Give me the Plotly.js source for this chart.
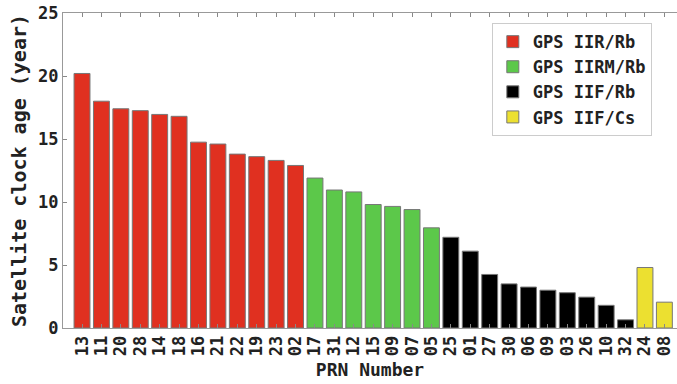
<!DOCTYPE html>
<html>
<head>
<meta charset="utf-8">
<script src="https://cdn.plot.ly/plotly-3.0.1.min.js"></script>
<style>html,body{margin:0;padding:0;background:#fff;}#chart{width:677px;height:384px;}</style>
</head>
<body>
<div id="chart"></div>
<script>
// PRN labels in plotted order
const prnLabels = ["13","11","20","28","14","18","16","21","22","19","23","02",
                   "17","31","12","15","09","07","05",
                   "25","01","27","30","06","09","03","26","10","32",
                   "24","08"];
// Clock ages (years) per group, in plotted order
const iirRb   = [20.2, 18.0, 17.4, 17.25, 16.95, 16.8, 14.75, 14.6, 13.8, 13.6, 13.3, 12.9];
const iirmRb  = [11.9, 10.95, 10.8, 9.8, 9.65, 9.4, 7.95];
const iifRb   = [7.2, 6.1, 4.25, 3.5, 3.25, 3.0, 2.8, 2.45, 1.8, 0.65];
const iifCs   = [4.8, 2.05];
const groupNames = ["GPS IIR/Rb", "GPS IIRM/Rb", "GPS IIF/Rb", "GPS IIF/Cs"];
const groupColors = ["#e03020", "#5cc84a", "#000000", "#ece030"];

const groups = [iirRb, iirmRb, iifRb, iifCs];
const font = {family: "DejaVu Sans Mono", color: "#222", weight: "bold"};
let offset = 0;
const traces = groups.map((vals, g) => {
  const xs = vals.map((_, i) => offset + i);
  offset += vals.length;
  return {
    type: "bar", name: groupNames[g], x: xs, y: vals, width: 0.82,
    marker: {color: groupColors[g], line: {color: "#777", width: 1}}
  };
});
const tickvals = prnLabels.map((_, i) => i);

Plotly.newPlot("chart", traces, {
  width: 677, height: 384,
  margin: {l: 63, r: 0, t: 13, b: 56},
  paper_bgcolor: "#fff", plot_bgcolor: "#fff",
  showlegend: true,
  barmode: "overlay",
  font: Object.assign({size: 17}, font),
  xaxis: {
    range: [-0.98, 30.65], tickvals: tickvals, ticktext: prnLabels,
    tickangle: -90, ticks: "inside", ticklen: 4, tickcolor: "#888",
    showline: true, linecolor: "#999", linewidth: 1, mirror: "ticks",
    showgrid: false, zeroline: false,
    tickfont: Object.assign({size: 17}, font),
    title: {text: "PRN Number", font: Object.assign({size: 18}, font), standoff: 8}
  },
  yaxis: {
    range: [0, 25], tickvals: [0, 5, 10, 15, 20, 25],
    ticks: "inside", ticklen: 4, tickcolor: "#888",
    showline: true, linecolor: "#999", linewidth: 1, mirror: false,
    showgrid: false, zeroline: false,
    tickfont: Object.assign({size: 17}, font),
    title: {text: "Satellite clock age (year)", font: Object.assign({size: 20}, font), standoff: 6}
  },
  legend: {
    x: 0.959, y: 0.968, xanchor: "right", yanchor: "top",
    bgcolor: "#fff", bordercolor: "#ccc", borderwidth: 1,
    font: Object.assign({size: 17}, font),
    itemwidth: 30, tracegroupgap: 0
  }
}, {displayModeBar: false, staticPlot: true});
</script>
</body>
</html>
